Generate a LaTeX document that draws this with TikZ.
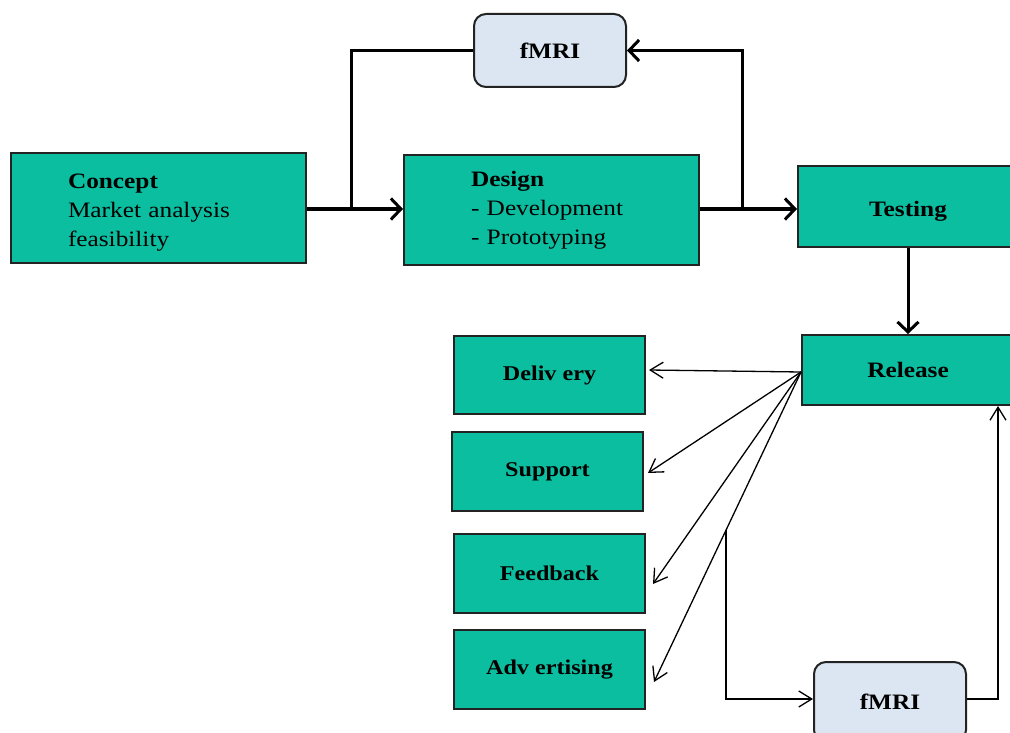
\documentclass[tikz,border=0pt]{standalone}
\usepackage{fontspec}
\setmainfont{Liberation Serif}[FakeStretch=1.15]
\usetikzlibrary{arrows.meta,calc}
\definecolor{teal1}{RGB}{12,190,160}
\definecolor{fmrifill}{RGB}{220,230,242}
\definecolor{edge}{RGB}{35,35,35}
\tikzset{
  box/.style={draw=edge, line width=2pt, fill=teal1, inner sep=0pt, font=\fontsize{22}{29}\selectfont},
  fmribox/.style={draw=edge, line width=2pt, fill=fmrifill, rounded corners=12pt, inner sep=0pt,
    minimum width=152pt, font=\fontsize{22}{29}\selectfont\bfseries},
  heavy/.style={line width=3pt, draw=black},
  heavyarrow/.style={heavy, -{Straight Barb[length=10pt,width=21pt,line width=3pt]}},
  thinarrow/.style={line width=1.3pt, draw=black, -{Straight Barb[length=13pt,width=16pt,line width=1.3pt]}},
  thinline/.style={line width=1.3pt, draw=black}
}
\begin{document}
\begin{tikzpicture}[x=1pt,y=-1pt]
\clip (0,0) rectangle (1010,733);
\useasboundingbox (0,0) rectangle (1010,733);
% nodes
\node[box, minimum width=295pt, minimum height=110pt, text width=181pt, align=left] (concept) at (158.5,208)
  {\rule{0pt}{23pt}\textbf{Concept}\\Market analysis\\feasibility};
\node[box, minimum width=295pt, minimum height=110pt, text width=161pt, align=left] (design) at (551.5,210)
  {\textbf{Design}\\- Development\\- Prototyping};
\node[box, minimum width=220pt, minimum height=81pt, font=\fontsize{22}{29}\selectfont\bfseries] (testing) at (908,206.5) {\rule{0pt}{24pt}Testing};
\node[fmribox, minimum height=73pt] (fmri1) at (550,50.5) {fMRI};
\node[box, minimum width=212pt, minimum height=70pt, font=\fontsize{22}{29}\selectfont\bfseries] (release) at (908,370) {Release};
\node[box, minimum width=191pt, minimum height=78pt, font=\fontsize{21}{29}\selectfont\bfseries] (delivery) at (549.5,375) {Deliv ery};
\node[box, minimum width=191pt, minimum height=79pt, font=\fontsize{21}{29}\selectfont\bfseries] (support) at (547.5,471.5) {Support};
\node[box, minimum width=191pt, minimum height=79pt, font=\fontsize{21}{29}\selectfont\bfseries] (feedback) at (549.5,573.5) {Feedback};
\node[box, minimum width=191pt, minimum height=79pt, font=\fontsize{21}{29}\selectfont\bfseries] (adv) at (549.5,669.5) {Adv ertising};
\node[fmribox, minimum height=80pt] (fmri2) at (890,702) {fMRI};
% junctions
\coordinate (j1) at (351,209);
\coordinate (j2) at (742,209);
% top connectors
\draw[heavyarrow] (concept.east |- j1) -- (design.west |- j1);
\draw[heavy] (j1) |- (fmri1.west);
\draw[heavyarrow] (design.east |- j2) -- (testing.west |- j2);
\draw[heavyarrow] (j2) |- (fmri1.east);
\draw[heavyarrow] (testing.south) -- (release.north);
% release fan
\coordinate (r0) at ([yshift=-2pt]release.west);
\draw[thinarrow] (r0) -- ([xshift=3pt,yshift=5pt]delivery.east);
\draw[thinarrow] (r0) -- ([xshift=4pt,yshift=-1.5pt]support.east);
\draw[thinarrow] (r0) -- ([xshift=7pt,yshift=-10.5pt]feedback.east);
\draw[thinarrow] (r0) -- ([xshift=8pt,yshift=-12.5pt]adv.east);
\coordinate (j3) at ($(r0)!0.51!([xshift=8pt,yshift=-12.5pt]adv.east)$);
\draw[thinarrow] (j3) |- ([yshift=3pt]fmri2.west);
\draw[thinarrow] ([yshift=3pt]fmri2.east) -| ([xshift=-17pt]release.south east);
\end{tikzpicture}
\end{document}
